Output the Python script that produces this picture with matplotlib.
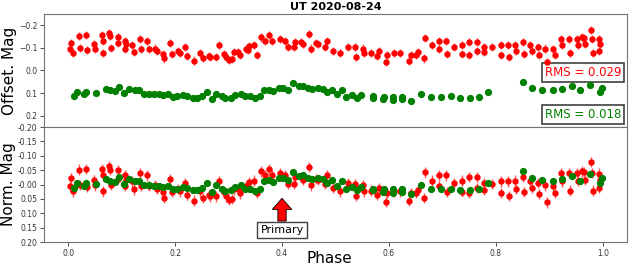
import matplotlib
matplotlib.use("Agg")
import numpy as np
import matplotlib.pyplot as plt

# Offset magnitudes (target = red, comparison = green)
RED_PHASE = [0.006, 0.004, 0.009, 0.020, 0.022, 0.034, 0.036, 0.048, 0.050, 0.064,
             0.065, 0.065, 0.077, 0.079, 0.080, 0.093, 0.093, 0.107, 0.108, 0.107,
             0.120, 0.123, 0.134, 0.137, 0.148, 0.151, 0.163, 0.166, 0.177, 0.180,
             0.191, 0.194, 0.205, 0.209, 0.219, 0.222, 0.235, 0.246, 0.252, 0.263,
             0.266, 0.277, 0.282, 0.291, 0.295, 0.300, 0.307, 0.310, 0.318, 0.322,
             0.333, 0.336, 0.339, 0.348, 0.354, 0.361, 0.368, 0.376, 0.382, 0.397,
             0.406, 0.411, 0.425, 0.422, 0.436, 0.439, 0.451, 0.455, 0.464, 0.468,
             0.480, 0.484, 0.495, 0.509, 0.523, 0.537, 0.539, 0.551, 0.554, 0.566,
             0.578, 0.582, 0.594, 0.597, 0.609, 0.621, 0.637, 0.641, 0.650, 0.654,
             0.665, 0.668, 0.680, 0.693, 0.693, 0.707, 0.708, 0.722, 0.736, 0.736,
             0.750, 0.750, 0.765, 0.765, 0.778, 0.778, 0.793, 0.809, 0.809, 0.822,
             0.824, 0.836, 0.837, 0.850, 0.852, 0.864, 0.867, 0.879, 0.881, 0.892,
             0.896, 0.907, 0.910, 0.922, 0.924, 0.936, 0.939, 0.951, 0.953, 0.961,
             0.964, 0.967, 0.978, 0.979, 0.982, 0.992, 0.994, 0.993]
RED_MAG = [-0.123, -0.094, -0.076, -0.152, -0.098, -0.155, -0.091, -0.117, -0.097, -0.155,
           -0.132, -0.076, -0.164, -0.152, -0.100, -0.149, -0.120, -0.132, -0.117, -0.094,
           -0.111, -0.083, -0.140, -0.094, -0.132, -0.094, -0.097, -0.086, -0.073, -0.053,
           -0.120, -0.073, -0.085, -0.076, -0.105, -0.064, -0.044, -0.076, -0.054, -0.064,
           -0.059, -0.059, -0.111, -0.073, -0.059, -0.047, -0.050, -0.083, -0.083, -0.069,
           -0.094, -0.091, -0.108, -0.114, -0.070, -0.146, -0.132, -0.155, -0.132, -0.140,
           -0.132, -0.103, -0.126, -0.103, -0.126, -0.117, -0.161, -0.097, -0.120, -0.117,
           -0.103, -0.132, -0.088, -0.076, -0.105, -0.103, -0.061, -0.097, -0.076, -0.079,
           -0.064, -0.088, -0.039, -0.070, -0.076, -0.076, -0.044, -0.070, -0.070, -0.082,
           -0.053, -0.142, -0.114, -0.132, -0.094, -0.132, -0.073, -0.105, -0.114, -0.073,
           -0.126, -0.070, -0.126, -0.088, -0.105, -0.082, -0.103, -0.111, -0.070, -0.111,
           -0.061, -0.114, -0.085, -0.126, -0.073, -0.114, -0.088, -0.105, -0.068, -0.097,
           -0.038, -0.094, -0.070, -0.140, -0.111, -0.140, -0.079, -0.140, -0.114, -0.146,
           -0.143, -0.117, -0.178, -0.140, -0.079, -0.138, -0.117, -0.088]
RED_ERR = 0.018

GREEN_PHASE = [0.011, 0.016, 0.029, 0.033, 0.052, 0.070, 0.078, 0.088, 0.096, 0.105,
               0.114, 0.125, 0.133, 0.141, 0.151, 0.160, 0.169, 0.178, 0.186, 0.196,
               0.204, 0.215, 0.222, 0.234, 0.241, 0.250, 0.260, 0.269, 0.277, 0.287,
               0.294, 0.305, 0.313, 0.323, 0.330, 0.341, 0.349, 0.359, 0.366, 0.376,
               0.384, 0.394, 0.402, 0.412, 0.421, 0.431, 0.439, 0.449, 0.457, 0.467,
               0.476, 0.485, 0.493, 0.503, 0.512, 0.520, 0.530, 0.540, 0.548, 0.570,
               0.571, 0.589, 0.590, 0.607, 0.607, 0.624, 0.625, 0.642, 0.660, 0.679,
               0.697, 0.716, 0.733, 0.751, 0.769, 0.786, 0.850, 0.868, 0.887, 0.906,
               0.923, 0.942, 0.958, 0.977, 0.994, 0.999]
GREEN_MAG = [0.111, 0.093, 0.105, 0.096, 0.099, 0.082, 0.088, 0.090, 0.073, 0.099,
             0.082, 0.088, 0.088, 0.102, 0.102, 0.105, 0.105, 0.108, 0.105, 0.117,
             0.114, 0.108, 0.111, 0.120, 0.120, 0.111, 0.096, 0.126, 0.102, 0.114,
             0.123, 0.120, 0.108, 0.102, 0.114, 0.114, 0.123, 0.114, 0.088, 0.085,
             0.090, 0.079, 0.079, 0.085, 0.055, 0.070, 0.067, 0.076, 0.082, 0.076,
             0.082, 0.093, 0.085, 0.105, 0.088, 0.117, 0.108, 0.120, 0.108, 0.120,
             0.114, 0.126, 0.117, 0.129, 0.117, 0.126, 0.117, 0.134, 0.102, 0.117,
             0.117, 0.114, 0.120, 0.120, 0.117, 0.093, 0.053, 0.079, 0.085, 0.088,
             0.082, 0.070, 0.088, 0.064, 0.096, 0.079]

RED_RMS = 0.029
GREEN_RMS = 0.018

red_phase = np.array(RED_PHASE)
red_mag = np.array(RED_MAG)
green_phase = np.array(GREEN_PHASE)
green_mag = np.array(GREEN_MAG)

# normalised = offset minus its mean
red_norm = red_mag - red_mag.mean()
green_norm = green_mag - green_mag.mean()

fig = plt.figure(figsize=(6.3, 2.68), dpi=100)
ax1 = fig.add_axes([0.070, 0.526, 0.925, 0.422])
ax2 = fig.add_axes([0.070, 0.097, 0.925, 0.429], sharex=ax1)

def draw(ax, gx, gy, rx, ry):
    ax.errorbar(rx, ry, yerr=RED_ERR, fmt="o", color="red", ms=3.6,
                ecolor=(1, 0.35, 0.35), elinewidth=1.0, capsize=0, zorder=3)
    ax.plot(gx, gy, "o", color="green", ms=4.2, zorder=4)
    for s in ax.spines.values():
        s.set_color("0.45")
    ax.tick_params(labelsize=5.5, colors="0.2", length=3, width=0.6, pad=2)

draw(ax1, green_phase, green_mag, red_phase, red_mag)
draw(ax2, green_phase, green_norm, red_phase, red_norm)

ax1.set_xlim(-0.045, 1.045)
ax1.set_ylim(0.25, -0.25)
ax1.set_yticks([-0.2, -0.1, 0.0, 0.1, 0.2])
ax1.tick_params(labelbottom=False)
ax1.set_ylabel("Offset. Mag", fontsize=11, labelpad=1)
ax1.set_title("UT 2020-08-24", fontsize=8, fontweight="bold", pad=3)

ax1.text(0.99, 0.482, f"RMS = {RED_RMS}", transform=ax1.transAxes, color="red",
         fontsize=8.5, ha="right", va="center",
         bbox=dict(boxstyle="square,pad=0.25", fc="white", ec="0.25", lw=1.2))
ax1.text(0.99, 0.111, f"RMS = {GREEN_RMS}", transform=ax1.transAxes, color="green",
         fontsize=8.5, ha="right", va="center",
         bbox=dict(boxstyle="square,pad=0.25", fc="white", ec="0.25", lw=1.2))

ax2.set_ylim(0.2, -0.2)
ax2.set_yticks(np.arange(-0.20, 0.201, 0.05))
ax2.set_yticklabels([f"{v:.2f}" for v in np.arange(-0.20, 0.201, 0.05)])
ax2.set_xticks([0.0, 0.2, 0.4, 0.6, 0.8, 1.0])
ax2.set_ylabel("Norm. Mag", fontsize=11, labelpad=1)
ax2.set_xlabel("Phase", fontsize=11, va="bottom")
ax2.xaxis.set_label_coords(0.49, -0.21)

ax2.annotate("Primary", xy=(0.4, 0.048), xytext=(0.4, 0.158),
             fontsize=8, ha="center", va="center",
             bbox=dict(boxstyle="square,pad=0.3", fc="white", ec="0.25", lw=1.0),
             arrowprops=dict(facecolor="red", edgecolor="black", width=6,
                             headwidth=14, headlength=8, shrink=0.0, lw=0.6))

fig.savefig("out.png", dpi=100)
